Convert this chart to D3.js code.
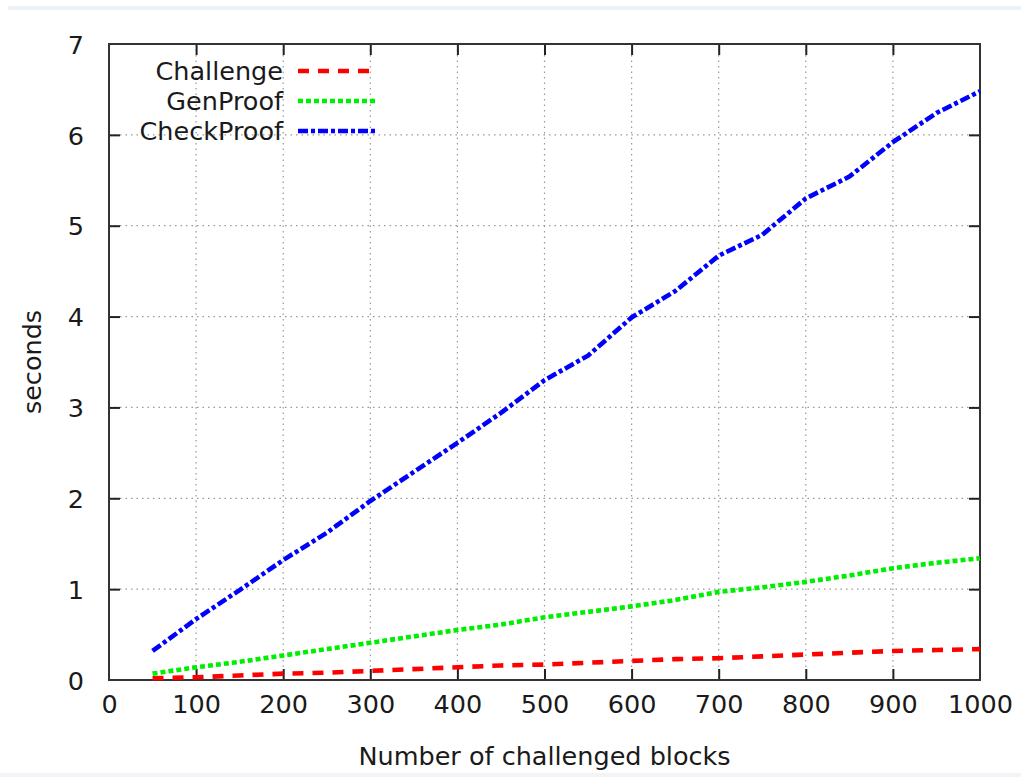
<!DOCTYPE html>
<html>
<head>
<meta charset="utf-8">
<script src="https://cdn.jsdelivr.net/npm/d3@7"></script>
<style>
  html, body { margin: 0; padding: 0; background: #fff; }
  svg { display: block; font-family: "DejaVu Sans", sans-serif; }
</style>
</head>
<body>
<svg id="chart" width="1021" height="777"></svg>
<script>
// ---- data ----
const blocks = [50,100,150,200,250,300,350,400,450,500,550,600,650,700,750,800,850,900,950,1000];
const challenge = [0.02,0.03,0.05,0.07,0.08,0.10,0.12,0.14,0.16,0.17,0.19,0.21,0.23,0.24,0.26,0.28,0.30,0.32,0.33,0.34];
const genProof = [0.07,0.14,0.20,0.27,0.34,0.41,0.48,0.55,0.61,0.69,0.75,0.81,0.88,0.97,1.02,1.08,1.15,1.23,1.29,1.34];
const checkProof = [0.32,0.67,0.99,1.32,1.62,1.97,2.29,2.61,2.94,3.30,3.57,3.99,4.28,4.67,4.90,5.30,5.54,5.92,6.24,6.48];
const seriesNames = ["Challenge","GenProof","CheckProof"];
const xTicks = [0,100,200,300,400,500,600,700,800,900,1000];
const yTicks = [0,1,2,3,4,5,6,7];
const xTitle = "Number of challenged blocks";
const yTitle = "seconds";

// ---- layout ----
const svg = d3.select("#chart");
const L = 109, R = 980, T = 44, B = 680;
const FS = 25.5;
const x = d3.scaleLinear().domain([0,1000]).range([L,R]);
const y = d3.scaleLinear().domain([0,7]).range([B,T]);

// frame bands
svg.append("rect").attr("x",8).attr("y",6).attr("width",1013).attr("height",4).attr("fill","#edf2f9");
svg.append("rect").attr("x",0).attr("y",773).attr("width",1021).attr("height",4).attr("fill","#f2f4f7");

// grid
const grid = svg.append("g").attr("stroke","#999").attr("stroke-width",1.2).attr("stroke-dasharray","1.5,4");
xTicks.filter(t => t>0 && t<1000).forEach(t => {
  grid.append("line").attr("x1",x(t)).attr("x2",x(t)).attr("y1",T).attr("y2",B);
});
yTicks.filter(t => t>0 && t<7).forEach(t => {
  grid.append("line").attr("x1",L).attr("x2",R).attr("y1",y(t)).attr("y2",y(t));
});

// axes (inward ticks, mirrored)
const tl = 11;
const fmt = d3.format("d");
const axB = svg.append("g").attr("transform",`translate(0,${B})`)
  .call(d3.axisBottom(x).tickValues(xTicks).tickFormat(fmt).tickSize(-tl).tickPadding(tl+17));
const axT = svg.append("g").attr("transform",`translate(0,${T})`)
  .call(d3.axisTop(x).tickValues(xTicks).tickSize(-tl).tickFormat(""));
const axL = svg.append("g").attr("transform",`translate(${L},0)`)
  .call(d3.axisLeft(y).tickValues(yTicks).tickFormat(fmt).tickSize(-tl).tickPadding(tl+14));
const axR = svg.append("g").attr("transform",`translate(${R},0)`)
  .call(d3.axisRight(y).tickValues(yTicks).tickSize(-tl).tickFormat(""));
[axB,axT,axL,axR].forEach(a => {
  a.select(".domain").remove();
  a.selectAll(".tick line").attr("stroke","#222").attr("stroke-width",2);
  a.selectAll("text").attr("font-family","DejaVu Sans").attr("font-size",FS).attr("fill","#1a1a1a");
});
axB.selectAll(".tick text").attr("dy","0.2em");
axL.selectAll(".tick text").attr("dy","0.36em");
axT.selectAll(".tick").filter(d => d===0||d===1000).remove();
axB.selectAll(".tick line").filter(d => d===0||d===1000).remove();
axL.selectAll(".tick line").filter(d => d===0||d===7).remove();
axR.selectAll(".tick").filter(d => d===0||d===7).remove();

// frame
svg.append("rect").attr("x",L).attr("y",T).attr("width",R-L).attr("height",B-T)
  .attr("fill","none").attr("stroke","#333").attr("stroke-width",2);

// series
const styles = [
  {name: seriesNames[0], values: challenge, color: "#ff0000", dash: "11,9"},
  {name: seriesNames[1], values: genProof, color: "#00ee00", dash: "5,3"},
  {name: seriesNames[2], values: checkProof, color: "#0000ff", dash: "10,3,4,3"}
];
const line = d3.line().x(d => x(d[0])).y(d => y(d[1]));
styles.forEach(s => {
  svg.append("path")
    .datum(blocks.map((b,i) => [b, s.values[i]]))
    .attr("d", line)
    .attr("fill","none")
    .attr("stroke", s.color)
    .attr("stroke-width", 4.6)
    .attr("stroke-dasharray", s.dash);
});

// legend
const lg = svg.append("g");
styles.forEach((s,i) => {
  const yy = 71 + i*30;
  lg.append("text").attr("x",283).attr("y",yy).attr("dy","0.36em")
    .attr("text-anchor","end").attr("font-size",FS).attr("fill","#1a1a1a").text(s.name);
  lg.append("line").attr("x1",298).attr("x2",376).attr("y1",yy).attr("y2",yy)
    .attr("stroke",s.color).attr("stroke-width",4.6).attr("stroke-dasharray",s.dash);
});

// titles
svg.append("text").attr("x",(L+R)/2).attr("y",765).attr("text-anchor","middle")
  .attr("font-size",FS).attr("fill","#1a1a1a").text(xTitle);
svg.append("text").attr("transform",`translate(41,${(T+B)/2}) rotate(-90)`)
  .attr("text-anchor","middle").attr("font-size",FS).attr("fill","#1a1a1a").text(yTitle);
</script>
</body>
</html>
